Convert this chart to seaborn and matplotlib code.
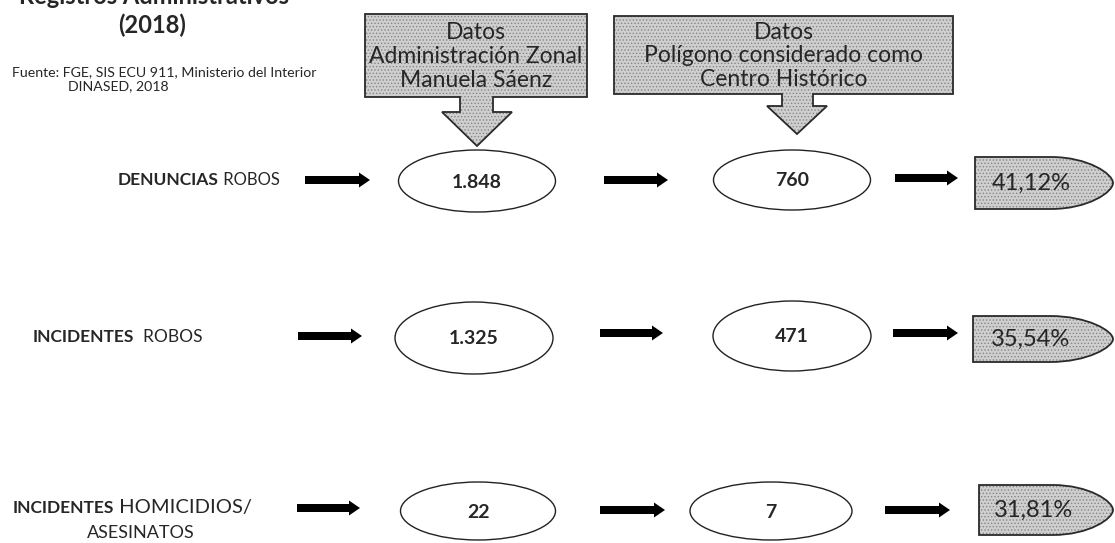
import matplotlib
matplotlib.use('Agg')
import matplotlib.pyplot as plt
import seaborn as sns
from matplotlib.patches import Ellipse, PathPatch, FancyArrow
from matplotlib.path import Path

# Data
ROW_BOLD = ['DENUNCIAS', 'INCIDENTES', 'INCIDENTES']
ROW_REST = [' ROBOS', '  ROBOS', ' HOMICIDIOS/']
ROW_EXTRA = ['', '', 'ASESINATOS']
ZONAL = [1848, 1325, 22]
CENTRO = [760, 471, 7]
PCT = [41.12, 35.54, 31.81]
HEADERS = ['Datos\nAdministración Zonal\nManuela Sáenz',
           'Datos\nPolígono considerado como\nCentro Histórico']
TITLE = ['Registros Administrativos', '(2018)']
SOURCE = ['Fuente: FGE, SIS ECU 911, Ministerio del Interior', 'DINASED, 2018']

# Layout (pixel coordinates, y downwards)
ROW_Y = [180, 337, 508]
LABEL_X = [118, 33, 13]
LABEL_SIZE = 12.5
REST_SIZE = [12, 12.5, 14.5]
ELL1 = [(477, 181, 157, 62), (474, 338, 158, 72), (478, 511, 155, 58)]
ELL2 = [(792, 180, 157, 60), (792, 336, 158, 70), (771, 511, 162, 58)]
ARROWS = [[(305, 370, 180), (604, 668, 180), (895, 958, 178)],
          [(298, 362, 336), (600, 663, 333), (893, 958, 333)],
          [(297, 360, 508), (600, 665, 510), (885, 950, 510)]]
TAGS = [(975, 1113, 157, 209), (973, 1113, 316, 362), (979, 1113, 485, 535)]
CALLOUTS = [dict(box=(365, 587, 14, 97), stem=(460, 493), hy=112, head=(442, 512), tip=(477, 146)),
            dict(box=(614, 953, 16, 94), stem=(782, 813), hy=106, head=(767, 827), tip=(797, 134))]

FILL = '#cfcfcf'
HATCH = '#858585'

sns.set_theme(style='white')
plt.rcParams['font.family'] = ['Lato', 'DejaVu Sans']
plt.rcParams['hatch.linewidth'] = 0.6


def textured(ax, path):
    ax.add_patch(PathPatch(path, facecolor=FILL, edgecolor=HATCH, hatch='.....', lw=0))
    ax.add_patch(PathPatch(path, facecolor='none', edgecolor='#2a2a2a', lw=1.3))


def callout_path(c):
    x0, x1, y0, y1 = c['box']
    s0, s1 = c['stem']
    h0, h1 = c['head']
    tx, ty = c['tip']
    hy = c['hy']
    pts = [(x0, y0), (x1, y0), (x1, y1), (s1, y1), (s1, hy), (h1, hy),
           (tx, ty), (h0, hy), (s0, hy), (s0, y1), (x0, y1), (x0, y0)]
    codes = [Path.MOVETO] + [Path.LINETO] * (len(pts) - 2) + [Path.CLOSEPOLY]
    return Path(pts, codes)


def bullet_path(x0, x1, y0, y1):
    ym = (y0 + y1) / 2
    xc = x0 + 0.55 * (x1 - x0)
    pts = [(x0, y0), (xc, y0),
           (xc + 0.6 * (x1 - xc), y0), (x1, ym - 0.35 * (ym - y0)), (x1, ym),
           (x1, ym + 0.35 * (y1 - ym)), (xc + 0.6 * (x1 - xc), y1), (xc, y1),
           (x0, y1), (x0, y0)]
    codes = [Path.MOVETO, Path.LINETO,
             Path.CURVE4, Path.CURVE4, Path.CURVE4,
             Path.CURVE4, Path.CURVE4, Path.CURVE4,
             Path.LINETO, Path.CLOSEPOLY]
    return Path(pts, codes)


fig = plt.figure(figsize=(11.15, 5.43), dpi=100)
ax = fig.add_axes([0, 0, 1, 1])
ax.set_xlim(0, 1115)
ax.set_ylim(543, 0)
ax.axis('off')

# Title (first line cut by the top edge, as in the source) and source
ax.text(154, 4, TITLE[0], ha='center', va='baseline', fontsize=17, weight='bold')
ax.text(152, 25, TITLE[1], ha='center', va='center', fontsize=17, weight='bold')
ax.text(12, 72, SOURCE[0], ha='left', va='center', fontsize=10.2)
ax.text(68, 86, SOURCE[1], ha='left', va='center', fontsize=10.2)

# Header callouts
for c, txt in zip(CALLOUTS, HEADERS):
    textured(ax, callout_path(c))
    x0, x1, y0, y1 = c['box']
    ax.text((x0 + x1) / 2, (y0 + y1) / 2 + 1, txt, ha='center', va='center',
            fontsize=16.5, linespacing=1.15)

# Rows
for i in range(3):
    y = ROW_Y[i]
    t = ax.text(LABEL_X[i], y, ROW_BOLD[i], ha='left', va='center',
                fontsize=LABEL_SIZE, weight='bold')
    ax.annotate(ROW_REST[i], xy=(1, 0), xycoords=t, ha='left', va='bottom',
                fontsize=REST_SIZE[i])
    if ROW_EXTRA[i]:
        ax.text(141, y + 25, ROW_EXTRA[i], ha='center', va='center', fontsize=13)

    for xa, xb, ya in ARROWS[i]:
        ax.add_patch(FancyArrow(xa, ya, xb - xa, 0, width=8, head_width=15,
                                head_length=11, length_includes_head=True,
                                color='black', lw=0))

    for (cx, cy, w, h), val in zip([ELL1[i], ELL2[i]], [ZONAL[i], CENTRO[i]]):
        ax.add_patch(Ellipse((cx, cy), w, h, fill=False, ec='#222222', lw=1.0))
        ax.text(cx, cy + 1, f'{val:,}'.replace(',', '.'), ha='center', va='center',
                fontsize=14, weight='bold')

    x0, x1, y0, y1 = TAGS[i]
    textured(ax, bullet_path(x0, x1, y0, y1))
    ax.text(x0 + 0.41 * (x1 - x0), (y0 + y1) / 2, f'{PCT[i]:.2f}'.replace('.', ',') + '%',
            ha='center', va='center', fontsize=17)

fig.savefig('out.png', dpi=100)
